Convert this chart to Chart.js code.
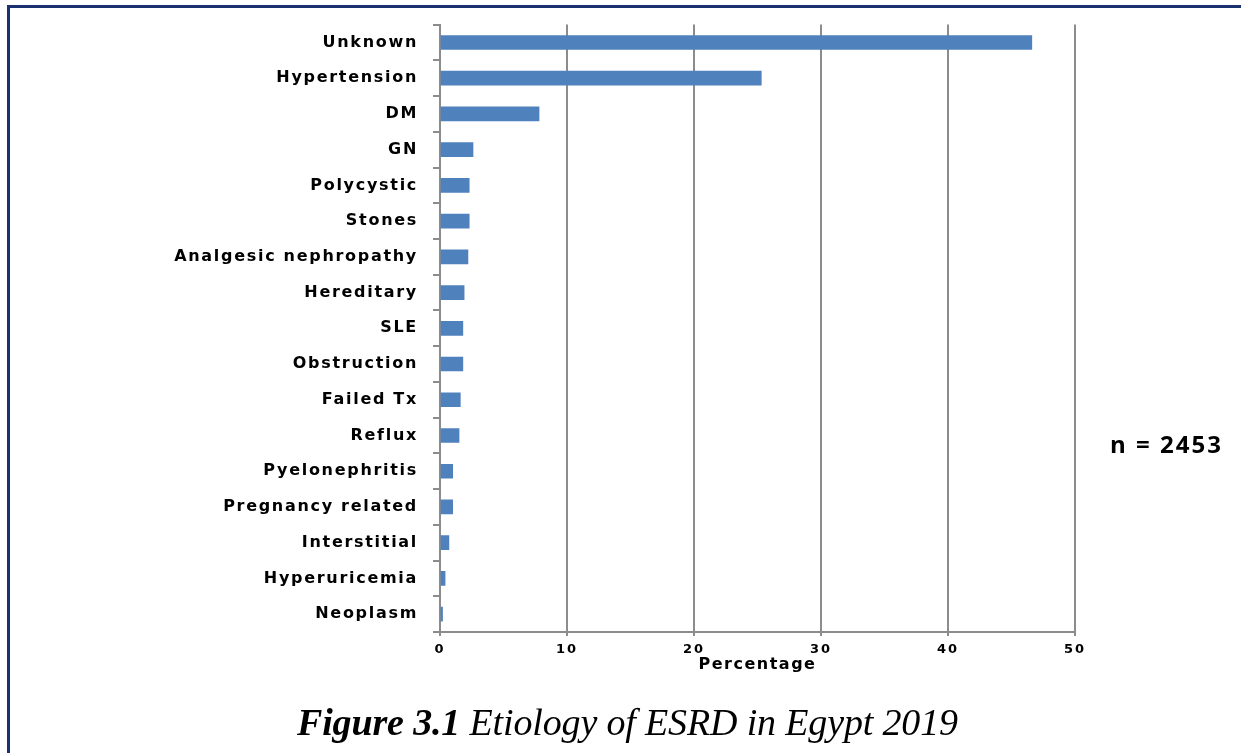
<!DOCTYPE html>
<html>
<head>
<meta charset="utf-8">
<script src="https://cdn.jsdelivr.net/npm/chart.js@4/dist/chart.umd.min.js"></script>
<style>
  html, body { margin: 0; padding: 0; background: #fff; }
  body { width: 1241px; height: 753px; position: relative; overflow: hidden; }
  #frame {
    position: absolute; left: 7px; top: 5px; width: 1300px; height: 800px;
    border: 3px solid #1a3370; box-sizing: border-box;
  }
  #wrap { position: absolute; left: 0; top: 0; width: 1241px; height: 753px; }
  #note {
    position: absolute; left: 1110px; top: 427px;
    font: 700 24px "Open Sans", sans-serif; letter-spacing: 2px; color: #000;
  }
  #caption {
    position: absolute; left: 297px; top: 700px; white-space: nowrap; line-height: 38px;
    font: italic 38px "Liberation Serif", serif; letter-spacing: -0.15px; color: #000;
  }
  #caption b { font-weight: 700; }
</style>
</head>
<body>
<div id="frame"></div>
<div id="wrap"><canvas id="myChart"></canvas></div>
<div id="note">n = 2453</div>
<div id="caption"><b>Figure 3.1</b> Etiology of ESRD in Egypt 2019</div>
<script>
// causes of ESRD, top to bottom
const causes = ["Unknown", "Hypertension", "DM", "GN", "Polycystic", "Stones", "Analgesic nephropathy",
    "Hereditary", "SLE", "Obstruction", "Failed Tx", "Reflux", "Pyelonephritis", "Pregnancy related",
    "Interstitial", "Hyperuricemia", "Neoplasm"];
const percentages = [46.6, 25.3, 7.8, 2.6, 2.3, 2.3, 2.2, 1.9, 1.8, 1.8, 1.6, 1.5, 1.0, 1.0, 0.7, 0.4, 0.2];
const xTicks = [0, 10, 20, 30, 40, 50];

const gray = "#8c8c8c";

// the source picture is stretched wide, so the axis texts get some letter spacing
function spaced(scale, method, px) {
    const orig = scale[method];
    scale[method] = function (...args) {
        this.ctx.letterSpacing = px;
        orig.apply(this, args);
        this.ctx.letterSpacing = "0px";
    };
}

const spacing = {
    id: "spacing",
    afterLayout(chart) {
        if (chart._spaced) return;
        chart._spaced = true;
        spaced(chart.scales.y, "drawLabels", "1.7px");
        spaced(chart.scales.x, "drawLabels", "2px");
        spaced(chart.scales.x, "drawTitle", "1.5px");
    }
};

const config = {
    type: "bar",
    data: {
        labels: causes,
        datasets: [{
            label: "Percentage",
            data: percentages,
            backgroundColor: "#4f81bd",
            barThickness: 14,
        }],
    },
    options: {
        indexAxis: "y",
        responsive: false,
        animation: false,
        layout: { padding: { top: 23, left: 0, right: 166, bottom: 81 } },
        plugins: { legend: { display: false }, tooltip: { enabled: false } },
        scales: {
            x: {
                min: 0,
                max: 50,
                afterFit: (scale) => { scale.height = 40; },
                afterBuildTicks: (scale) => { scale.ticks = xTicks.map(v => ({ value: v })); },
                grid: { color: gray, lineWidth: 2, tickLength: 4 },
                border: { color: gray, width: 2 },
                ticks: { color: "#000", padding: 6, font: { family: "DejaVu Sans", size: 13, weight: "bold" } },
                title: {
                    display: true,
                    text: "Percentage",
                    color: "#000",
                    padding: { top: 0, bottom: -2 },
                    font: { family: "DejaVu Sans", size: 16, weight: "bold" },
                },
            },
            y: {
                afterFit: (scale) => { scale.width = 440; },
                grid: { color: gray, lineWidth: 2, tickLength: 7, drawOnChartArea: false },
                border: { color: gray, width: 2 },
                ticks: { color: "#000", padding: 15, font: { family: "DejaVu Sans", size: 16, weight: "bold" } },
            },
        },
    },
    plugins: [spacing],
};

const canvas = document.getElementById("myChart");
canvas.width = 1241;
canvas.height = 753;
const myChart = new Chart(canvas, config);
</script>
</body>
</html>
